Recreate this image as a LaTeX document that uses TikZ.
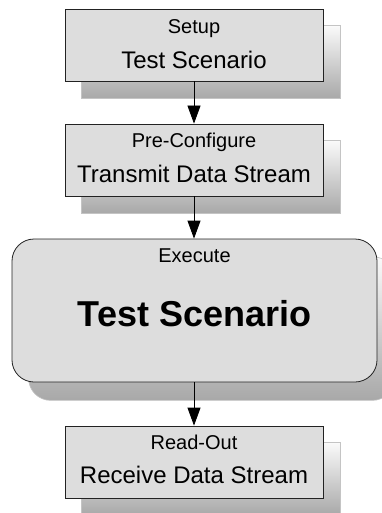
\documentclass[tikz,border=0pt]{standalone}
\usepackage{fontspec}
\setmainfont{Liberation Sans}
\usetikzlibrary{arrows.meta,backgrounds,calc}
\definecolor{boxfill}{HTML}{DDDDDD}
\definecolor{boxline}{HTML}{222222}
\definecolor{shadowtop}{HTML}{FAFAFA}
\definecolor{shadowbot}{HTML}{A8A8A8}
\definecolor{shadowline}{HTML}{C4C4C4}
\tikzset{
  stagebox/.style={draw=boxline, fill=boxfill, line width=0.8pt,
    minimum width=258pt, minimum height=72pt, inner sep=0pt},
  bigstage/.style={stagebox, minimum width=365pt, minimum height=143pt,
    rounded corners=22pt},
  caption/.style={anchor=base, inner sep=0pt, font=\fontsize{20}{24}\selectfont},
  title/.style={anchor=base, inner sep=0pt, font=\fontsize{24}{28}\selectfont},
  bigtitle/.style={anchor=base, inner sep=0pt, font=\fontsize{36}{42}\selectfont\bfseries},
  flow/.style={draw=black, line width=0.8pt, -{Triangle[length=18pt,width=13pt]}},
  shadowfill/.style={top color=shadowtop, bottom color=shadowbot,
    draw=shadowline, line width=0.6pt}
}
\begin{document}
\begin{tikzpicture}[x=1pt,y=1pt]
  \useasboundingbox (0,0) rectangle (382,-513);

  % stages
  \node[stagebox] (s1) at (194,-45) {};
  \node[stagebox] (s2) at (194,-160) {};
  \node[bigstage] (s3) at (194.5,-310.5) {};
  \node[stagebox] (s4) at (194,-462) {};

  % drop shadows behind the stages
  \begin{scope}[on background layer]
    \path[shadowfill] ($(s1.south west)+(17,-17)$) rectangle ($(s1.north east)+(17,-17)$);
    \path[shadowfill] ($(s2.south west)+(17,-17)$) rectangle ($(s2.north east)+(17,-17)$);
    \path[shadowfill, rounded corners=22pt] ($(s3.south west)+(17,-18)$) rectangle ($(s3.north east)+(17,-18)$);
    \path[shadowfill] ($(s4.south west)+(17,-17)$) rectangle ($(s4.north east)+(17,-17)$);
  \end{scope}

  % labels
  \node[caption] (c1) at ($(s1.north)+(0,-25)$) {Setup};
  \node[title]   (t1) at ($(s1.north)+(0,-60)$) {Test Scenario};
  \node[caption] (c2) at ($(s2.north)+(0,-24)$) {Pre-Configure};
  \node[title]   (t2) at ($(s2.north)+(0,-59)$) {Transmit Data Stream};
  \node[caption] (c3) at ($(s3.north)+(0,-24)$) {Execute};
  \node[bigtitle] (t3) at ($(s3.north)+(0,-88)$) {Test Scenario};
  \node[caption] (c4) at ($(s4.north)+(0,-24)$) {Read-Out};
  \node[title]   (t4) at ($(s4.north)+(0,-58)$) {Receive Data Stream};

  % flow arrows
  \draw[flow] (s1.south) -- (s2.north);
  \draw[flow] (s2.south) -- (s2.south |- s3.north);
  \draw[flow] (s2.south |- s3.south) -- (s2.south |- s4.north);
\end{tikzpicture}
\end{document}
